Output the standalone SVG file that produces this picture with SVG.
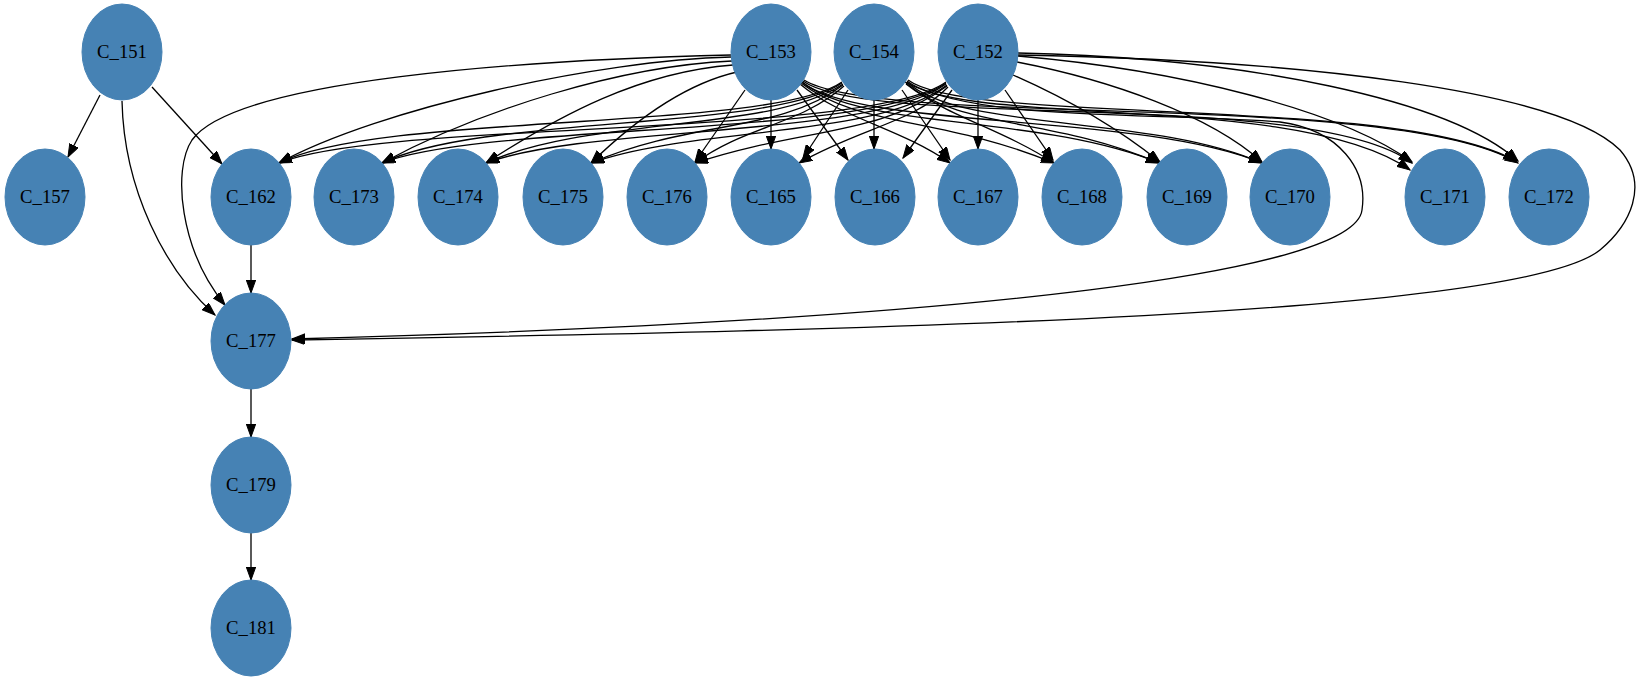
<svg xmlns="http://www.w3.org/2000/svg" width="1637" height="683" viewBox="0 0 1637 683">
<style>
.n ellipse{fill:#4682b4;stroke:#4682b4;stroke-width:1}
.n text{font-family:"Liberation Serif","Times New Roman",serif;font-size:18.67px;fill:#000;text-anchor:middle}
#edges path{fill:none;stroke:#000;stroke-width:1.3;marker-end:url(#ah)}
</style>
<defs>
<marker id="ah" markerUnits="userSpaceOnUse" markerWidth="14" markerHeight="10" refX="13" refY="4.7" orient="auto">
<path d="M0,0 L13,4.7 L0,9.4 z" fill="#000" stroke="#000" stroke-width="1"/>
</marker>
</defs>
<rect width="1637" height="683" fill="#fff"/>
<g id="edges">
<path d="M100,95 L68,157"/>
<path d="M152,87 L222,164"/>
<path d="M122,101 C124,190 165,270 215,315"/>
<path d="M251,245 L251,293"/>
<path d="M251,389 L251,437"/>
<path d="M251,533 L251,580"/>
<path d="M731,55 C520,60 235,80 192,140 C172,170 180,250 225,305"/>
<path d="M1018,55 C1300,60 1560,90 1620,150 C1650,185 1630,225 1600,250 C1520,315 900,330 292,340"/>
<path d="M905,82 C980,122 1150,112 1280,122 C1340,130 1368,170 1362,210 C1355,270 1000,320 292,339"/>
<path d="M731,57 C600,60 380,108 279,163"/>
<path d="M732,61 C620,66 480,110 382,163"/>
<path d="M733,65 C640,72 560,115 486,163"/>
<path d="M737,72 C680,85 630,125 591,163"/>
<path d="M745,90 L695,162"/>
<path d="M771,100 L771,149"/>
<path d="M797,90 L848,160"/>
<path d="M800,84 C840,118 900,128 950,163"/>
<path d="M801,83 C860,128 940,116 1054,163"/>
<path d="M802,82 C860,130 1040,114 1159,163"/>
<path d="M802,82 C860,130 1140,112 1262,163"/>
<path d="M803,81 C870,130 1312,88 1412,163"/>
<path d="M804,80 C880,128 1400,90 1518,163"/>
<path d="M842,82 C770,132 380,112 279,163"/>
<path d="M842,83 C770,132 484,114 382,163"/>
<path d="M843,84 C770,133 588,116 486,163"/>
<path d="M843,85 C780,133 690,120 591,163"/>
<path d="M844,86 C800,125 745,126 695,163"/>
<path d="M848,90 L803,158"/>
<path d="M874,100 L874,149"/>
<path d="M902,90 L950,160"/>
<path d="M906,84 C950,118 1000,128 1054,163"/>
<path d="M906,83 C960,130 1050,116 1159,163"/>
<path d="M907,82 C960,132 1150,114 1262,163"/>
<path d="M907,81 C965,128 1300,92 1410,170"/>
<path d="M908,80 C970,126 1395,94 1516,161"/>
<path d="M946,82 C870,138 385,120 279,163"/>
<path d="M946,83 C870,138 488,122 382,163"/>
<path d="M946,84 C870,139 592,124 486,163"/>
<path d="M947,85 C875,139 695,126 591,163"/>
<path d="M947,86 C880,136 800,128 695,163"/>
<path d="M948,87 C915,122 860,128 799,163"/>
<path d="M952,90 L903,158"/>
<path d="M978,100 L978,149"/>
<path d="M1005,90 L1053,160"/>
<path d="M1013,75 C1070,100 1120,130 1160,162"/>
<path d="M1017,62 C1110,80 1210,115 1262,162"/>
<path d="M1018,56 C1180,70 1340,110 1412,162"/>
<path d="M1018,53 C1250,58 1450,100 1518,161"/>
</g>
<g id="C_151" class="n"><ellipse cx="122" cy="52" rx="40" ry="48"/><text x="122" y="58">C_151</text></g>
<g id="C_153" class="n"><ellipse cx="771" cy="52" rx="40" ry="48"/><text x="771" y="58">C_153</text></g>
<g id="C_154" class="n"><ellipse cx="874" cy="52" rx="40" ry="48"/><text x="874" y="58">C_154</text></g>
<g id="C_152" class="n"><ellipse cx="978" cy="52" rx="40" ry="48"/><text x="978" y="58">C_152</text></g>
<g id="C_157" class="n"><ellipse cx="45" cy="197" rx="40" ry="48"/><text x="45" y="203">C_157</text></g>
<g id="C_162" class="n"><ellipse cx="251" cy="197" rx="40" ry="48"/><text x="251" y="203">C_162</text></g>
<g id="C_173" class="n"><ellipse cx="354" cy="197" rx="40" ry="48"/><text x="354" y="203">C_173</text></g>
<g id="C_174" class="n"><ellipse cx="458" cy="197" rx="40" ry="48"/><text x="458" y="203">C_174</text></g>
<g id="C_175" class="n"><ellipse cx="563" cy="197" rx="40" ry="48"/><text x="563" y="203">C_175</text></g>
<g id="C_176" class="n"><ellipse cx="667" cy="197" rx="40" ry="48"/><text x="667" y="203">C_176</text></g>
<g id="C_165" class="n"><ellipse cx="771" cy="197" rx="40" ry="48"/><text x="771" y="203">C_165</text></g>
<g id="C_166" class="n"><ellipse cx="875" cy="197" rx="40" ry="48"/><text x="875" y="203">C_166</text></g>
<g id="C_167" class="n"><ellipse cx="978" cy="197" rx="40" ry="48"/><text x="978" y="203">C_167</text></g>
<g id="C_168" class="n"><ellipse cx="1082" cy="197" rx="40" ry="48"/><text x="1082" y="203">C_168</text></g>
<g id="C_169" class="n"><ellipse cx="1187" cy="197" rx="40" ry="48"/><text x="1187" y="203">C_169</text></g>
<g id="C_170" class="n"><ellipse cx="1290" cy="197" rx="40" ry="48"/><text x="1290" y="203">C_170</text></g>
<g id="C_171" class="n"><ellipse cx="1445" cy="197" rx="40" ry="48"/><text x="1445" y="203">C_171</text></g>
<g id="C_172" class="n"><ellipse cx="1549" cy="197" rx="40" ry="48"/><text x="1549" y="203">C_172</text></g>
<g id="C_177" class="n"><ellipse cx="251" cy="341" rx="40" ry="48"/><text x="251" y="347">C_177</text></g>
<g id="C_179" class="n"><ellipse cx="251" cy="485" rx="40" ry="48"/><text x="251" y="491">C_179</text></g>
<g id="C_181" class="n"><ellipse cx="251" cy="628" rx="40" ry="48"/><text x="251" y="634">C_181</text></g>
</svg>
